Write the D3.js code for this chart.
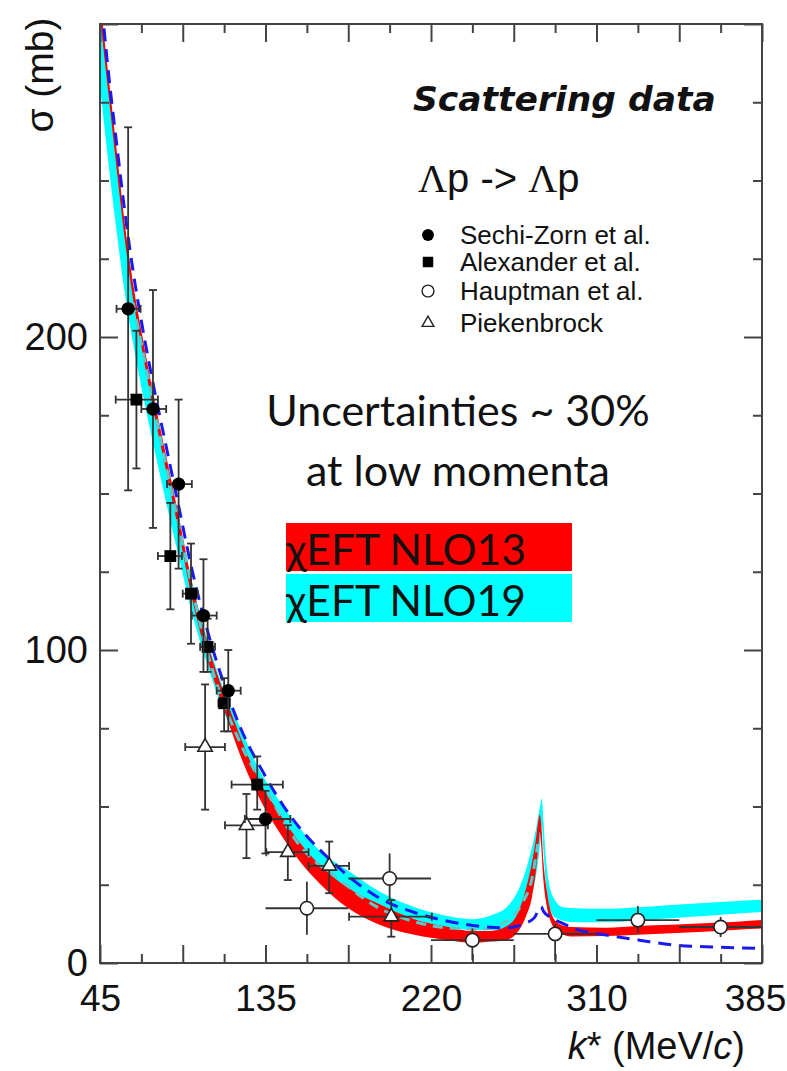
<!DOCTYPE html>
<html>
<head>
<meta charset="utf-8">
<script src="https://cdn.jsdelivr.net/npm/d3@7"></script>
<style>
  body { margin: 0; background: #fff; }
  svg { display: block; }
</style>
</head>
<body>
<svg id="chart" width="787" height="1071"></svg>
<script>
// ---- Axis ticks (x positions are lab momenta, labelled with k*) ----
const xMajorTicks = [100, 200, 300, 400, 500, 600, 700, 800, 900];
const xMinorTicks = [150, 250, 350, 450, 550, 650, 750, 850];
const xLabelValues = [100, 300, 500, 700, 900];
const xLabelTexts = ["45", "135", "220", "310", "385"];
const yMajorTicks = [0, 100, 200, 300];
const yMinorTicks = [25, 50, 75, 125, 150, 175, 225, 250, 275];
const yLabelValues = [0, 100, 200];

// ---- Measurements: [p, sigma, pLow, pHigh, sigmaLow, sigmaHigh] ----
const sechiZorn = [
  [134, 209, 120, 149, 151, 267],
  [164, 177, 150, 180, 139, 215],
  [195, 153, 181, 211, 126, 180],
  [225, 111, 211, 241, 93, 129],
  [255, 87, 241, 270, 74, 100],
  [300, 46, 275, 330, 35, 55]
];
const alexander = [
  [144, 180, 119, 170, 158, 202],
  [185, 130, 170, 199, 113, 147],
  [210, 118, 200, 218, 102, 134],
  [230, 101, 221, 239, 93, 110],
  [250, 83, 243, 257, 74, 91],
  [290, 57, 259, 321, 49, 66]
];
const hauptman = [
  [350, 17.5, 300, 400, 9, 26],
  [450, 27, 400, 500, 20, 35],
  [550, 7.3, 500, 600, 1, 11],
  [650, 9.3, 600, 700, 1, 12.5],
  [750, 13.7, 700, 800, 9.6, 18.2],
  [850, 11.5, 800, 900, 8.3, 14.7]
];
const piekenbrock = [
  [227, 69, 203, 251, 49, 89],
  [277, 44, 251, 303, 33.5, 54],
  [327, 35.4, 301, 352, 26.5, 44],
  [377, 31, 352, 401, 22.3, 38.8],
  [452, 14.8, 401, 501, 8.4, 20.1]
];

// ---- Theory bands: [p, sigmaLow, sigmaHigh] ----
const nlo13Band = [
  [100, 303, 309], [105, 290, 296], [110, 278, 284], [120, 254, 260],
  [130, 231, 236], [140, 212, 217], [150, 197, 202], [165, 176, 181],
  [180, 157, 162], [195, 138, 143], [210, 118, 123], [230, 97, 102],
  [250, 81, 86], [270, 66, 72], [290, 54, 59.5], [315, 42.5, 48.5],
  [340, 33, 39], [365, 25.5, 31.5], [400, 17.5, 24], [440, 12, 18.5],
  [480, 9, 14], [520, 7.3, 11.6], [550, 6.5, 10.2], [570, 6.8, 10.2],
  [590, 7.3, 11.6], [605, 10, 16], [615, 15, 24], [622, 21, 32],
  [627, 30, 40], [630, 38, 46], [631.5, 42, 47.5], [633, 38, 45],
  [636, 26, 32], [640, 18, 23], [646, 12.5, 15.5], [655, 9.5, 12.5],
  [670, 8.5, 11.5], [712, 8.6, 11.3], [750, 9, 11.8], [790, 9.5, 12.2],
  [830, 10, 12.7], [870, 10.6, 13.2], [900, 11, 13.7]
];
const nlo19Band = [
  [100, 280, 304], [105, 268, 292], [110, 256, 280], [120, 234, 257],
  [130, 214, 235], [140, 198, 216], [150, 184, 200], [165, 165, 180],
  [180, 147, 161], [195, 130, 142], [210, 113, 123], [230, 95, 103],
  [250, 80, 87], [270, 68, 75], [290, 57, 63], [315, 46.5, 52.5],
  [340, 37.5, 43.5], [365, 30.5, 36], [400, 24, 29.5], [440, 18, 22.5],
  [480, 14, 17.8], [520, 11.5, 15], [550, 10.5, 14], [575, 10.5, 15.5],
  [592, 11, 18], [605, 13, 23], [615, 17, 30], [622, 22, 37],
  [627, 28, 43], [631, 36, 49], [634, 44, 52.5], [636, 36, 45],
  [639, 25, 33], [643, 18, 25], [650, 14.5, 20], [660, 13.5, 17.8],
  [675, 13, 17.5], [712, 13, 17.3], [750, 13.6, 17.8], [790, 14.3, 18.5],
  [830, 15, 19.2], [870, 15.8, 19.8], [900, 16.3, 20.2]
];

// ---- Dashed model curves: [p, sigma] ----
const blueDashedCurve = [
  [100, 312], [110, 285], [120, 262], [130, 240], [140, 221], [150, 205],
  [165, 184], [180, 165], [195, 146], [210, 127], [230, 106], [250, 89],
  [270, 75], [297, 61], [330, 47], [357, 38.5], [378, 33], [406, 26.5],
  [442, 20.1], [483, 15.9], [523, 13.2], [563, 11.6], [590, 11.2],
  [612, 12.5], [625, 14.5], [631, 17.5], [633, 18], [636, 16.5],
  [645, 14.5], [660, 12.6], [671, 11.2], [712, 8.9], [752, 7.3],
  [792, 5.8], [832, 5.2], [900, 4.7]
];
const tealDashedCurve = [
  [140, 211], [165, 178], [195, 140], [230, 99], [270, 70], [300, 55.5],
  [340, 38], [390, 26.5], [434, 18], [480, 13.2], [520, 11.2], [560, 10.8],
  [592, 13.5], [610, 19], [622, 27], [629, 38]
];

// ---- Layout ----
const svg = d3.select("#chart");
const plot = { left: 100, right: 762, top: 24, bottom: 963 };
const x = d3.scaleLinear().domain([100, 900]).range([plot.left, plot.right]);
const y = d3.scaleLinear().domain([0, 300]).range([plot.bottom, plot.top]);

svg.append("defs").append("clipPath").attr("id", "plot-clip")
  .append("rect")
  .attr("x", plot.left).attr("y", plot.top)
  .attr("width", plot.right - plot.left).attr("height", plot.bottom - plot.top);

const curves = svg.append("g").attr("clip-path", "url(#plot-clip)");

const band = d3.area()
  .x(d => x(d[0])).y0(d => y(d[1])).y1(d => y(d[2]))
  .curve(d3.curveMonotoneX);
const line = d3.line()
  .x(d => x(d[0])).y(d => y(d[1]))
  .curve(d3.curveMonotoneX);

curves.append("path").datum(nlo19Band).attr("d", band).attr("fill", "#00ffff");
curves.append("path").datum(nlo13Band).attr("d", band).attr("fill", "#ff0000");
curves.append("path").datum(tealDashedCurve).attr("d", line)
  .attr("fill", "none").attr("stroke", "#5cc8c8").attr("stroke-width", 3)
  .attr("stroke-dasharray", "10,7");
curves.append("path").datum(blueDashedCurve).attr("d", line)
  .attr("fill", "none").attr("stroke", "#1a1aee").attr("stroke-width", 3)
  .attr("stroke-dasharray", "13,8");

// ---- Axes (ticks point inward on all four sides) ----
const tickFont = "'Liberation Sans', Arial, sans-serif";
function styleAxis(g) {
  g.select(".domain").remove();
  g.selectAll(".tick line").attr("stroke", "#444").attr("stroke-width", 2);
  g.selectAll(".tick text").attr("fill", "#111")
    .style("font-family", tickFont).style("font-size", "37px");
}
const xLabel = d => {
  const i = xLabelValues.indexOf(d);
  return i >= 0 ? xLabelTexts[i] : "";
};
const yLabel = d => (yLabelValues.includes(d) ? String(d) : "");

const xAxisBottom = svg.append("g").attr("transform", `translate(0,${plot.bottom})`)
  .call(d3.axisBottom(x).tickValues(xMajorTicks).tickSize(-18).tickPadding(22).tickFormat(xLabel))
  .call(styleAxis);
// keep the last label inside the canvas
xAxisBottom.selectAll(".tick text").filter(d => d === 900).attr("dx", -7);

svg.append("g").attr("transform", `translate(0,${plot.bottom})`)
  .call(d3.axisBottom(x).tickValues(xMinorTicks).tickSize(-9).tickFormat(""))
  .call(styleAxis);
svg.append("g").attr("transform", `translate(0,${plot.top})`)
  .call(d3.axisTop(x).tickValues(xMajorTicks).tickSize(-18).tickFormat(""))
  .call(styleAxis);
svg.append("g").attr("transform", `translate(0,${plot.top})`)
  .call(d3.axisTop(x).tickValues(xMinorTicks).tickSize(-9).tickFormat(""))
  .call(styleAxis);
svg.append("g").attr("transform", `translate(${plot.left},0)`)
  .call(d3.axisLeft(y).tickValues(yMajorTicks).tickSize(-18).tickPadding(12).tickFormat(yLabel))
  .call(styleAxis)
  .selectAll(".tick text").style("font-size", "38px");
svg.append("g").attr("transform", `translate(${plot.left},0)`)
  .call(d3.axisLeft(y).tickValues(yMinorTicks).tickSize(-9).tickFormat(""))
  .call(styleAxis);
svg.append("g").attr("transform", `translate(${plot.right},0)`)
  .call(d3.axisRight(y).tickValues(yMajorTicks).tickSize(-18).tickFormat(""))
  .call(styleAxis);
svg.append("g").attr("transform", `translate(${plot.right},0)`)
  .call(d3.axisRight(y).tickValues(yMinorTicks).tickSize(-9).tickFormat(""))
  .call(styleAxis);

svg.append("rect")
  .attr("x", plot.left).attr("y", plot.top)
  .attr("width", plot.right - plot.left).attr("height", plot.bottom - plot.top)
  .attr("fill", "none").attr("stroke", "#444").attr("stroke-width", 2);

// ---- Axis titles ----
svg.append("text")
  .attr("transform", "translate(53,75) rotate(-90)")
  .attr("text-anchor", "middle")
  .style("font-family", tickFont).style("font-size", "39px").attr("fill", "#111")
  .text("σ (mb)");

const xTitle = svg.append("text")
  .attr("x", 745).attr("y", 1059).attr("text-anchor", "end")
  .style("font-family", tickFont).style("font-size", "38px").attr("fill", "#111");
xTitle.append("tspan").style("font-style", "italic").text("k");
xTitle.append("tspan").text("* (MeV/");
xTitle.append("tspan").style("font-style", "italic").text("c");
xTitle.append("tspan").text(")");

// ---- Data points with error bars ----
const barColor = "#333";
function drawSet(data, opts) {
  const g = svg.append("g");
  const cap = 4;
  data.forEach(d => {
    const [p, s, pLo, pHi, sLo, sHi] = d;
    const cx = x(p), cy = y(s);
    g.append("line").attr("x1", cx).attr("x2", cx).attr("y1", y(sLo)).attr("y2", y(sHi))
      .attr("stroke", barColor).attr("stroke-width", 1.8);
    g.append("line").attr("x1", x(pLo)).attr("x2", x(pHi)).attr("y1", cy).attr("y2", cy)
      .attr("stroke", barColor).attr("stroke-width", 1.8);
    if (opts.caps) {
      [sLo, sHi].forEach(v => g.append("line")
        .attr("x1", cx - cap).attr("x2", cx + cap).attr("y1", y(v)).attr("y2", y(v))
        .attr("stroke", barColor).attr("stroke-width", 1.8));
      [pLo, pHi].forEach(v => g.append("line")
        .attr("x1", x(v)).attr("x2", x(v)).attr("y1", cy - cap).attr("y2", cy + cap)
        .attr("stroke", barColor).attr("stroke-width", 1.8));
    }
  });
  g.selectAll("path.marker").data(data).join("path")
    .attr("class", "marker")
    .attr("transform", d => `translate(${x(d[0])},${y(d[1])})`)
    .attr("d", d3.symbol().type(opts.symbol).size(opts.size))
    .attr("fill", opts.fill).attr("stroke", opts.stroke).attr("stroke-width", opts.strokeWidth);
}
drawSet(hauptman, { caps: false, symbol: d3.symbolCircle, size: 140, fill: "#fff", stroke: "#222", strokeWidth: 1.6 });
drawSet(piekenbrock, { caps: true, symbol: d3.symbolTriangle, size: 90, fill: "#fff", stroke: "#222", strokeWidth: 1.6 });
drawSet(alexander, { caps: true, symbol: d3.symbolSquare, size: 140, fill: "#000", stroke: "none", strokeWidth: 0 });
drawSet(sechiZorn, { caps: true, symbol: d3.symbolCircle, size: 140, fill: "#000", stroke: "none", strokeWidth: 0 });

// ---- Legend ----
svg.append("text")
  .attr("x", 413).attr("y", 111)
  .style("font-family", "'DejaVu Sans', sans-serif").style("font-size", "34.5px")
  .style("font-weight", "bold").style("font-style", "italic").attr("fill", "#111")
  .text("Scattering data");

const reaction = svg.append("text")
  .attr("x", 418).attr("y", 192)
  .style("font-family", tickFont).style("font-size", "40px").attr("fill", "#111");
reaction.append("tspan").style("font-family", "'Liberation Serif', serif").text("Λ");
reaction.append("tspan").text("p -> ");
reaction.append("tspan").style("font-family", "'Liberation Serif', serif").text("Λ");
reaction.append("tspan").text("p");

const legendNames = ["Sechi-Zorn et al.", "Alexander et al.", "Hauptman et al.", "Piekenbrock"];
const legendSymbols = [d3.symbolCircle, d3.symbolSquare, d3.symbolCircle, d3.symbolTriangle];
const legendFills = ["#000", "#000", "#fff", "#fff"];
const legendRows = [235, 262, 291, 323];
legendNames.forEach((name, i) => {
  svg.append("path")
    .attr("transform", `translate(428,${legendRows[i]})`)
    .attr("d", d3.symbol().type(legendSymbols[i]).size(i === 3 ? 60 : 110)())
    .attr("fill", legendFills[i])
    .attr("stroke", legendFills[i] === "#fff" ? "#222" : "none")
    .attr("stroke-width", 1.4);
  svg.append("text")
    .attr("x", 460).attr("y", legendRows[i] + 9)
    .style("font-family", tickFont).style("font-size", "26px").attr("fill", "#111")
    .text(name);
});

// ---- Annotation ----
const noteFont = "Lato, 'Open Sans', sans-serif";
svg.append("text").attr("x", 458).attr("y", 426).attr("text-anchor", "middle")
  .style("font-family", noteFont).style("font-size", "43px").attr("fill", "#111")
  .text("Uncertainties ~ 30%");
svg.append("text").attr("x", 458).attr("y", 486).attr("text-anchor", "middle")
  .style("font-family", noteFont).style("font-size", "43px").attr("fill", "#111")
  .text("at low momenta");

const bandKeys = ["χEFT NLO13", "χEFT NLO19"];
const bandColors = ["#ff0000", "#00ffff"];
const bandKeyTop = [523, 574];
bandKeys.forEach((label, i) => {
  svg.append("rect")
    .attr("x", 286).attr("y", bandKeyTop[i]).attr("width", 286).attr("height", 48)
    .attr("fill", bandColors[i]);
  svg.append("text")
    .attr("x", 286).attr("y", bandKeyTop[i] + 42)
    .style("font-family", noteFont).style("font-size", "42.5px").attr("fill", "#111")
    .text(label);
});
</script>
</body>
</html>
